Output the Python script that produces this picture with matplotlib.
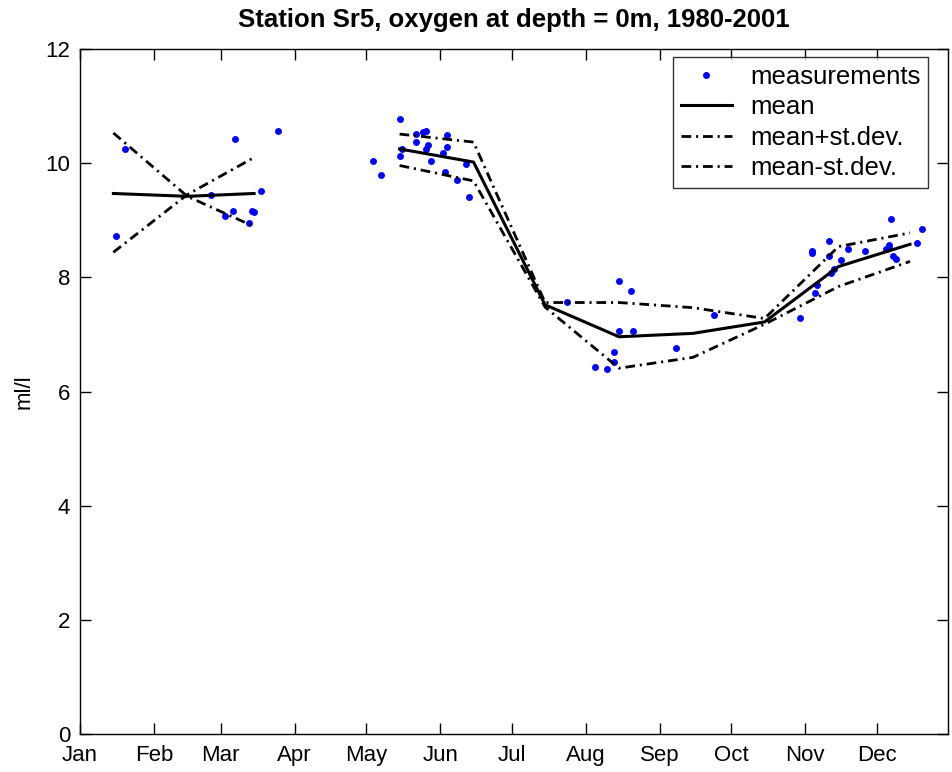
import numpy as np
import matplotlib
matplotlib.use("Agg")
import matplotlib.pyplot as plt

plt.rcParams['font.family'] = ['Liberation Sans', 'DejaVu Sans']
plt.rcParams['lines.scale_dashes'] = False

# day of year for month ticks
month_days = [1, 32, 60, 91, 121, 152, 182, 213, 244, 274, 305, 335]
month_names = ['Jan', 'Feb', 'Mar', 'Apr', 'May', 'Jun', 'Jul', 'Aug', 'Sep', 'Oct', 'Nov', 'Dec']

# individual measurements (day of year, ml/l)
meas_day = [16, 20, 66, 84, 56, 77, 65, 62, 73, 74, 72,
            135, 124, 127, 142, 145, 146, 142, 155, 136, 135, 147, 146, 155, 153, 148,
            163, 154, 159, 164,
            205, 227, 232, 227, 233, 225, 225, 217, 222, 251, 267,
            341, 354, 352, 308, 308, 315, 315, 323, 330, 320, 317, 316, 340, 340, 339,
            342, 343, 310, 309, 303]
meas_val = [8.72, 10.25, 10.42, 10.56, 9.44, 9.51, 9.17, 9.07, 9.17, 9.14, 8.96,
            10.77, 10.04, 9.79, 10.51, 10.54, 10.56, 10.37, 10.49, 10.25, 10.12, 10.32, 10.25, 10.28, 10.18, 10.04,
            9.98, 9.84, 9.70, 9.40,
            7.57, 7.93, 7.77, 7.07, 7.07, 6.70, 6.52, 6.43, 6.40, 6.77, 7.35,
            9.02, 8.84, 8.61, 8.47, 8.42, 8.63, 8.37, 8.49, 8.47, 8.30, 8.14, 8.08, 8.56, 8.52, 8.49,
            8.37, 8.33, 7.87, 7.72, 7.29]

# monthly statistics at mid-month (NaN = no data in April)
mid_day = [15, 46, 74, 105, 135, 166, 196, 227, 258, 288, 319, 349]
mean_val = [9.47, 9.42, 9.47, np.nan, 10.25, 10.02, 7.52, 6.96, 7.02, 7.22, 8.19, 8.58]
plus_val = [10.53, 9.42, 8.89, np.nan, 10.51, 10.37, 7.56, 7.56, 7.47, 7.28, 8.54, 8.78]
minus_val = [8.44, 9.45, 10.10, np.nan, 9.96, 9.69, 7.48, 6.41, 6.60, 7.18, 7.84, 8.28]

fig = plt.figure(figsize=(9.52, 7.72), dpi=100)
ax = fig.add_axes([0.084, 0.049, 0.912, 0.8875])

dashdot = (0, (7, 3.5, 1.5, 3.5))
ax.plot(meas_day, meas_val, 'o', color=(0, 0, 1), markersize=5, markeredgewidth=0, label='measurements')
ax.plot(mid_day, mean_val, '-', color='black', lw=2.2, label='mean')
ax.plot(mid_day, plus_val, color='black', lw=2, ls=dashdot, label='mean+st.dev.')
ax.plot(mid_day, minus_val, color='black', lw=2, ls=dashdot, label='mean-st.dev.')

ax.set_xlim(1, 365)
ax.set_ylim(0, 12)
ax.set_xticks(month_days)
ax.set_xticklabels(month_names)
ax.set_yticks([0, 2, 4, 6, 8, 10, 12])
ax.tick_params(direction='in', length=8, width=1, top=True, right=True, labelsize=16)
ax.tick_params(axis='x', pad=8)
ax.tick_params(axis='y', pad=7)
for s in ax.spines.values():
    s.set_linewidth(1)
ax.set_ylabel('ml/l', fontsize=16)
ax.yaxis.set_label_coords(-0.052, 0.5)
ax.set_title('Station Sr5, oxygen at depth = 0m, 1980-2001', fontsize=18.5, fontweight='bold', pad=16)

leg = ax.legend(loc='upper right', bbox_to_anchor=(0.977, 0.988), fontsize=18.5, frameon=True,
                fancybox=False, edgecolor='black', handlelength=2.0, labelspacing=0.25,
                borderaxespad=0, handletextpad=0.7, borderpad=0.3)
leg.get_frame().set_linewidth(1)

fig.savefig('out.png', dpi=100)
